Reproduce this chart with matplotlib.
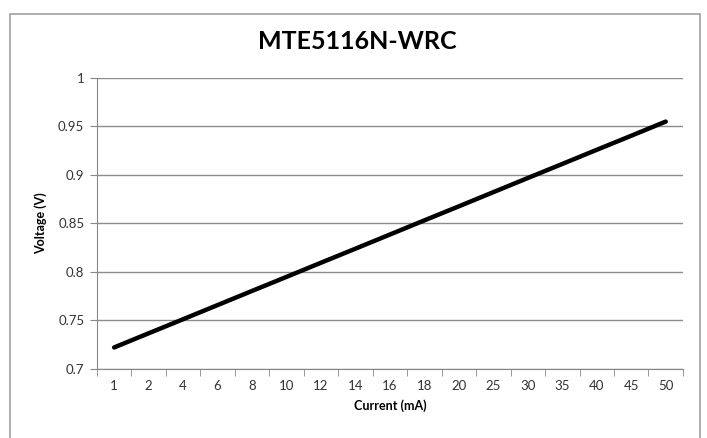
import matplotlib.pyplot as plt
from matplotlib.patches import Rectangle
from matplotlib.ticker import FixedLocator, FuncFormatter

plt.rcParams['font.family'] = ['Lato', 'DejaVu Sans']

current = ['1', '2', '4', '6', '8', '10', '12', '14', '16', '18', '20',
           '25', '30', '35', '40', '45', '50']
voltage = [0.7220, 0.7366, 0.7511, 0.7657, 0.7803, 0.7948, 0.8094, 0.8239,
           0.8385, 0.8531, 0.8676, 0.8822, 0.8968, 0.9113, 0.9259, 0.9404,
           0.9550]

fig = plt.figure(figsize=(7.07, 4.38), dpi=100)
ax = fig.add_axes([0.137, 0.158, 0.829, 0.664])

# chart frame like the spreadsheet export
fig.patches.append(Rectangle((10 / 707, -0.1), 690 / 707, 1.1 - 14 / 438,
                             transform=fig.transFigure, fill=False,
                             edgecolor='#a0a0a0', linewidth=1.2))

x = list(range(len(current)))
ax.plot(x, voltage, color='black', linewidth=3.2, solid_capstyle='round')

ax.set_xlim(-0.5, len(current) - 0.5)
ax.set_ylim(0.7, 1.0)
ax.set_xticks(x)
ax.set_xticklabels(current)
ax.xaxis.set_minor_locator(FixedLocator([i - 0.5 for i in range(len(current) + 1)]))
ax.tick_params(axis='x', which='major', length=0, pad=8, labelsize=9.5, labelcolor='#333333')
ax.tick_params(axis='x', which='minor', length=5, color='#868686', direction='out')

ax.set_yticks([0.7, 0.75, 0.8, 0.85, 0.9, 0.95, 1.0])
ax.yaxis.set_major_formatter(FuncFormatter(lambda v, p: f'{v:g}'))
ax.tick_params(axis='y', length=5, color='#868686', labelsize=9.5, labelcolor='#333333', pad=4)

ax.grid(axis='y', color='#8c8c8c', linewidth=1)
ax.set_axisbelow(True)
for s in ['top', 'right']:
    ax.spines[s].set_visible(False)
for s in ['left', 'bottom']:
    ax.spines[s].set_color('#868686')

ax.set_xlabel('Current (mA)', fontsize=9, fontweight='bold', labelpad=5)
ax.set_ylabel('Voltage (V)', fontsize=9, fontweight='bold', labelpad=8)
fig.text(0.505, 0.905, 'MTE5116N-WRC', ha='center', va='center',
         fontsize=18, fontweight='bold')

fig.savefig('out.png', dpi=100)
